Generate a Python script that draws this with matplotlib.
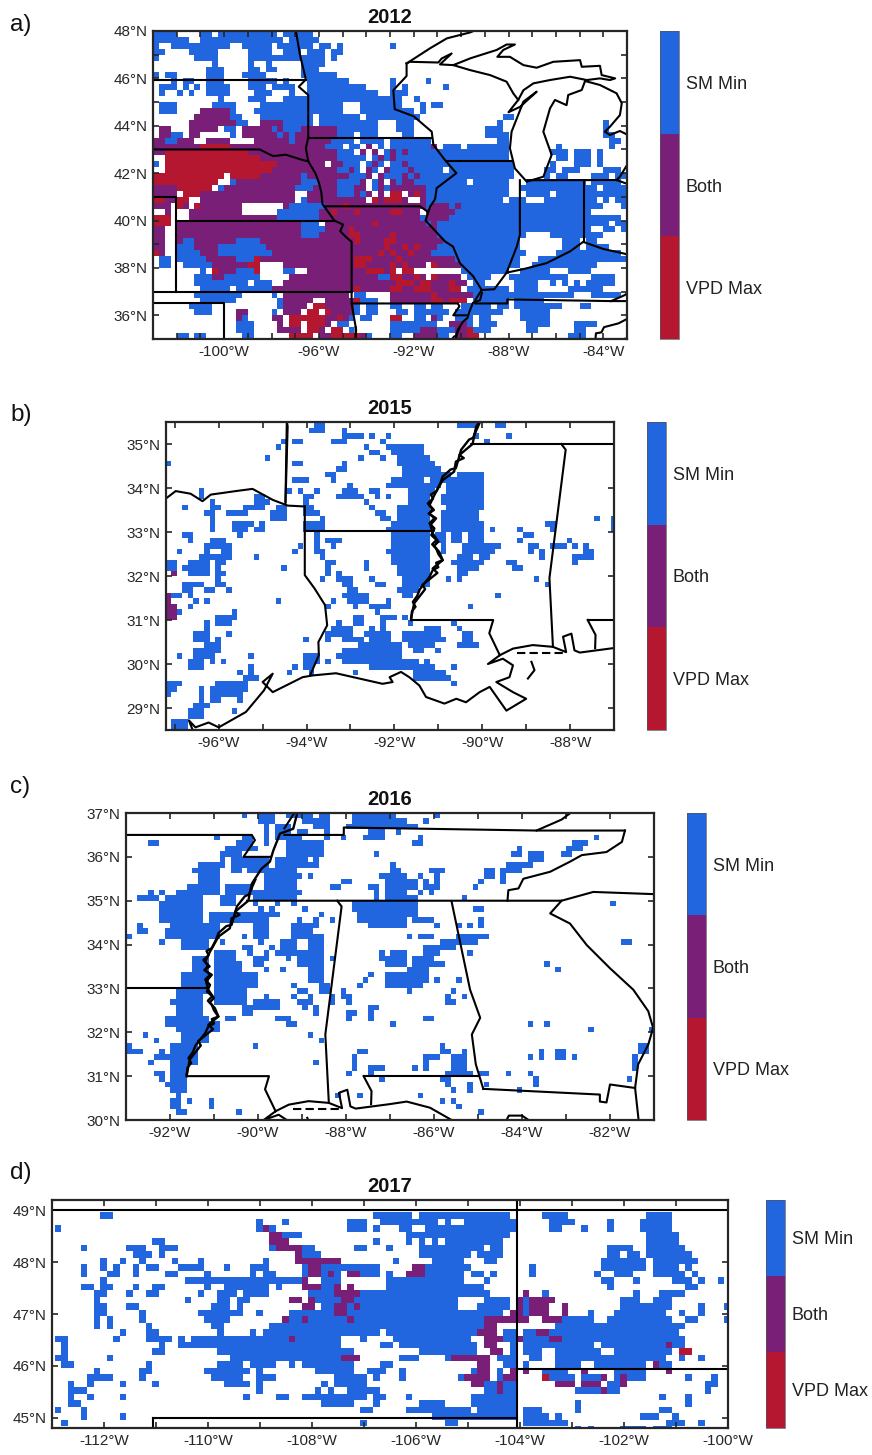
import numpy as np
import matplotlib
matplotlib.use("Agg")
import matplotlib.pyplot as plt
from matplotlib.colors import ListedColormap, BoundaryNorm
from matplotlib.cm import ScalarMappable

plt.rcParams['font.family'] = ['Liberation Sans', 'DejaVu Sans']

CATEGORIES = ['VPD Max', 'Both', 'SM Min']
COLORS = ['#B4172F', '#7A1F78', '#2166DE']

# 2012: 0.25 degree reading, rows from 48N southward, columns from 103W eastward
GRID_2012 = """
BBBB....BB .BBBBBBBBB B.BBBBB...
BBBBBB..BB BBBBBBBBBB BB.BBBBB..
B..BBBBBBB BBB..BBBBB .BBBBBB.BB .B........ B
BB....BBBB B.....BBBB ..BBB.BBB. BB
B......BBB B.....BBBB BBBBBBBBB. B
.......... B.....B..B .....BBBB.
.........B BB....BB.B B....BBB..
B.BB.....B BB...BBBB. .....BBBBB B
...B.BB..B BB....BBBB B.B...BBBB BBB....... B.....B...
.BBB.B.B.B BBB...BBB. BBBB..BBBB BBBBBB.... B.B......B
.B..B.B..B BBB....BBB ...B..BBBB BBBBBBBB.. BBB.......
.......... .B....BBB. ..BBBBBBBB BBBBBBBBBB BB..B.....
.BBB...... BBBB....BB BBBBBBBBBB BB...BBBBB BB...B.BB.
.BBB....PP PPPB...BBB BBBBBBBBBB BB...BBBBB BBBB.B....
.......PPP PPPBB...BB BBBBBBB.BB BBBBB.BBBB BBBBB..... .........B B.
......PPPP PPPPBB..PP PPBBBBB.BB BBBBBBBB.. .BBB...... ........B. .......... ......B...
.PP...PPPP P.BB.PPPPP BPBBBPPPPP PBBBBBBB.. .BBB...... ......BBB. .......... ......B...
.PPBB.PP.. ...B.PPPPP PBPBPPPPPP PBBB.BBB.. ..BB...... ......BBBB .......... ......BB..
PPBBPPP..P PPP....PPP PPPBPPPPPP BBBB.BBBB. BBBBBBB... ........BB .......... .......BB.
PPPPPPPPRR RRRPPPPPPP PPPPPPPPPB BB.BB.P.B. BBBBBBBP.B BB.BBBBBBB ........B. .......B..
PPRRRRRRRR RRRRRRPPPP PPPPPPPPPP PBBB.P.P.B PBPBBBBBBB BBBBBBBBBB .......BBB .BBB.B....
..RRRRRRRR RRRRRRRRPP PPPPPPPPPP PBBBBB.BPB PBBBBBBBBB BBBBBBBBBB ........BB .BBB.B....
B.RRRRRRRR RRRRRRRRRR RPPPPPPPP. PPBBB.BPB. BBPBBBBBBB BBBBBBBBBB B......B.. .BBB.B....
..RRRRRRRR RRRRRRRRRR PPPPPPPPPP PBBPB.PB.P BBBPBBBBB. BBBBBBBBBB B.....BB.B BB....BBB.
RRRRRRRRRR RR.RRRRRPP PPPPPBPPPP PPPBBBP.PB BBPBPBBBBB BBBBBBBBBB B.....B.BB ....BBB.BB
RRRRRRRRRR R..BPPPPPP PPPPPBBBPP PBBBBP.BP. PBPPBBBBBB BBB.BBBBBB ...BBBBBBB BBB.BBBBB.
PPPPRRRRRR .BPPPPPPPP PPPPBBBPPP PBBBPP.BPB PPPPPPBBBB BBBBBBBBBB ..BBBBBBBB BBBBB.BBBB
PPPP.RRRPP PPPPPPPPPP PPPP..PPPP PBBBPBP.P. RR.PRPBBBB BBBBBBBBBB ...BBBB.BB BBBBBBBBBB
RRPPRR..PP PPPPPPPPPP PPPP.BPPPP PPPPPP.RPR RRP..PBBBB BBBBBBBBB. BBB...BBBB BBBBB.B.BB
PPP.RP.RPP PPPPP..... ..PBBBBBBP PPRPPPPPPP PPPPPPBPPP BPBBBBBBBB BBBBBBBBBB BBBBBB...B
..P...PPPP PPPPP..... .BBBBBBBPP RPPPRPPPPP RRPPP.PPPP PBBBBBBBBB BBBBBBBBBB BBBB...... 
RRR...PPPP PPPPPPPPPP PBBBBBBBPP PPPPPPPPPP PPPPPBPPPP BBBBBBBBBB BBBBBBBBBB BBBBBBBBB.
RRR.PPPPPP PPPPPPPPPP PPPPPBBB.P PPPPPPPRPP PPPPPPBPBB BBBBBBBBBB BBBBBBBBBB BBBBBBB.BB
PP..PPPPPP PPPPPPPPPP PPPPPBBBBP PPPRPPPPPP PPPPPPPPBB BBBBBBBBBB BBBBBBBBBB BBBB..BB.B
PP..PPPPPP PPPPPPPPPP PPPPPBBBPP PPPRRPPPPP RPPPPPPPBB BBBBBBBBBB BBB....BBB BBBBBB....
PP..PBBPPP PPPPBBBBPP PPPPPPPPPP PPPPRPPPPR RPPPPPPPPB BBBBBBBBBB BB.......B BB.BB.....
PP..BBBPPP PBBBBBBBBP PPPPPPPPPP PPPPPPPPPR PPRPRPPPBB BBBBBBBBBB BB.......B BB.BBBB...
RP..BBBBPP PBBBBBBBBB PPPPPPPPPP PPPPPPPPRP RPPRPPPBBB BBBBBBBBBB BBB.....BB BBBBBBBBB.
.BB.BBBBBP PPPPBBBRPP PPPPPPPPPP PPPPRRRPPP PRPPPPPPPP PBBBBBBBBB BB...BBBBB BBBBBBBBBB
.BB..BBBBB PPPPPPRR.. ..PPPPPPPP PPPPRRPPPP RPRPPP.RPP PPBBBBBBBB BB..BBBBBB BBBBB.....
........B. RPPPBBBR.. ..BB..PPPP PPPPPPRRRP R.RR...... ..BBBBBBBB ..BBBBB... BBBB......
.......BBB PPBBBBBB.. ...PPPPPPP PPPPPPPPBB RRPPRP.RPP PP.BBBB... BBBBBBBBBB ....BBBB..
.......BBB BBBBBB.BBB ..PPPPPPPP PPPPPPPPPP PRRRPRRPPP RPP.BB.... .BBBB..B.B .B.BBBBB..
........BB BBB.BBBBBB PPPPPPPPPP PPPPRPPPPP RRPPRRRPPP RR.BBBBBBB .BBBB..... BBBBBB....
.......BBB BBBBB..... B.PPPPPPPP PPP.BB.... PPPPPPPRPP PPPPBBBBBB BBBBBBBBBB B...BBBBB.
........BB BBBB...... .BPPPPP..P PPPPRBBB.. PPPPPPPRRP RRR.BBBBBB .BBBBB.... ..........
......BBBB .......... .BPPPP.RRP PPPPB.BB.. BB..BB.BB. ..BBBBB.BB .BBBBBBBB. ..BB......
.......BBB ....PP.... B.PPP.RR.R PPPPB.BB.. .BB.BBBBBB .BBBBBBBB. ..BBBBB... ..........
.......... ....PB.... PP.RRRRRRP PRPB.BB... RR..BB.PB. .BBB.BB... ..BBBBB... ..........
.......... ....BBB... .P.RR.RRRP .BB....... BBBBBBBB.. PPPB.BBB.. ...BBBB... .BBBB.....
.......... ....BBB... .PPPP.RRP. RR.B...... BBBBBPPPBB BPPRBBB... ...BB..... .BB.......
....BB.BB. .....BB... ...RRRR.PP RRRRRPB... BB..PPPPBB .PPRR..... .......... BBB.......
"""

# cell rectangles: (first col, end col, first row, end row), rows southward at 0.125 deg
SM_2015 = [
(27,29,0,1),(26,29,1,2),(23,25,3,4),(32,33,1,4),(30,33,3,4),(33,36,2,3),(37,38,2,3),(39,40,3,4),(40,41,2,3),
(53,57,0,1),(60,62,0,1),(62,63,2,3),(58,59,3,4),(56,57,2,3),(21,22,3,4),(20,21,4,5),(18,19,6,7),(0,1,7,8),
(36,37,4,5),(37,39,5,6),(39,40,6,7),(35,36,6,7),(40,47,4,5),(41,47,5,6),(42,48,6,7),(42,49,7,8),(43,50,8,9),
(43,52,9,10),(41,47,10,11),(48,51,10,11),(40,50,11,12),(44,49,12,13),(44,48,13,17),(42,44,15,17),(42,48,17,18),
(41,48,18,19),(40,49,19,20),(41,48,20,26),(40,41,23,24),(42,48,26,28),(43,48,28,30),(42,46,30,31),(43,45,31,32),
(53,58,9,10),(51,58,10,16),(50,58,13,15),(51,58,15,16),(51,57,16,18),(50,51,16,18),(50,58,18,20),(49,51,20,22),
(52,54,20,22),(55,58,20,22),(54,61,22,23),(54,60,23,24),(50,51,22,24),(53,56,24,25),(57,59,24,25),(52,58,25,26),
(53,57,26,27),(53,55,27,28),(53,54,28,29),(51,52,28,29),(59,60,19,20),(64,65,19,20),(65,67,20,21),(64,65,21,22),
(66,68,22,23),(66,67,23,24),(68,69,23,25),(69,71,18,19),(70,71,19,20),(70,73,22,23),(73,74,21,22),(74,75,22,23),
(76,77,22,23),(76,78,23,25),(74,76,24,25),(74,75,25,26),(62,64,25,26),(63,65,26,27),(67,68,28,29),(69,70,29,30),
(60,61,31,32),(55,56,33,34),(78,79,17,18),(81,82,17,20),(23,25,7,8),(23,26,10,11),(22,23,12,13),(24,25,12,13),
(27,28,12,13),(25,27,13,14),(25,26,14,17),(26,27,15,17),(27,28,16,17),(25,29,18,20),(28,29,17,18),(32,33,7,9),
(31,33,8,9),(29,31,9,10),(30,31,10,11),(33,34,11,12),(32,35,12,13),(31,36,13,14),(37,39,12,13),(38,39,13,14),
(40,41,13,14),(36,37,14,15),(37,38,15,16),(38,40,16,17),(39,41,17,18),(27,28,20,24),(28,29,23,25),(29,32,21,22),
(30,31,22,23),(29,31,25,26),(29,30,26,28),(28,29,28,29),(36,37,25,27),(31,32,27,29),(32,34,28,30),(33,35,30,31),
(32,36,31,32),(33,36,32,33),(36,37,31,33),(37,38,28,29),(38,40,29,30),(30,31,32,33),(29,30,33,34),(34,35,33,34),
(37,41,33,34),(40,41,32,33),(38,39,34,35),(34,36,35,37),(39,42,35,36),(39,40,36,38),(43,44,35,36),(44,45,36,37),
(31,32,36,38),(30,34,37,39),(29,30,38,40),(32,36,39,40),(37,38,37,38),(36,37,38,39),(37,41,38,40),(47,50,37,38),
(43,50,38,39),(43,51,39,40),(44,49,40,41),(45,47,41,42),(49,50,41,42),(35,43,40,42),(32,43,41,42),(31,43,42,43),
(32,46,43,44),(37,49,44,45),(47,48,43,44),(45,51,45,46),(45,52,46,47),(52,53,44,45),(52,53,47,48),(29,30,43,44),
(34,35,45,46),(52,53,36,37),(53,54,37,38),(54,56,38,41),(53,56,40,41),(56,57,40,41),(25,26,39,40),(6,7,12,14),
(3,4,15,16),(8,9,14,20),(9,10,15,16),(7,8,16,17),(11,15,16,17),(14,18,15,16),(16,18,13,15),(12,15,18,20),
(13,14,20,21),(15,16,18,19),(16,18,19,20),(17,18,18,19),(19,22,16,18),(20,22,15,16),(18,19,14,15),(3,5,20,21),
(4,5,21,22),(8,11,21,22),(7,12,22,23),(7,8,23,24),(10,12,23,25),(6,11,24,25),(4,8,25,28),(3,4,26,27),(9,11,25,26),
(9,10,26,30),(10,11,27,28),(10,11,29,30),(11,12,30,31),(2,3,23,24),(23,24,23,24),(24,25,22,23),(16,17,24,25),
(21,22,26,27),(0,2,25,27),(3,7,29,30),(3,5,30,31),(7,9,30,31),(1,3,31,32),(4,5,31,32),(5,6,32,33),(7,8,32,33),
(4,5,33,34),(2,3,34,35),(20,21,32,33),(12,13,34,36),(9,12,35,37),(7,8,36,40),(5,8,38,40),(11,12,38,39),(9,10,39,42),
(7,10,40,41),(5,9,41,42),(5,7,42,43),(7,9,42,43),(4,7,43,45),(8,9,43,44),(10,11,43,44),(2,3,42,43),(15,16,42,43),
(15,16,44,47),(13,14,45,46),(14,17,46,47),(9,15,47,49),(8,14,48,50),(8,10,50,51),(6,7,48,53),(5,8,51,52),(4,7,52,54),
(13,14,50,51),(12,13,52,53),(0,3,47,48),(0,2,48,49),(0,1,49,50),(22,23,45,46),(23,24,44,45),(25,28,42,44),(25,27,44,45),
(26,27,45,46),(1,4,54,56)]
BOTH_2015 = [(1,2,27,28),(0,1,31,33),(0,2,33,36)]
VPD_2015 = []

SM_2016 = [
(21,22,0,1),(24,27,0,2),(25,26,2,6),(29,32,0,1),(27,30,2,5),(31,33,3,4),(32,34,0,2),(34,37,1,3),(35,37,0,1),(36,37,3,4),
(41,49,0,3),(44,47,3,5),(43,44,4,5),(40,41,2,3),(39,40,4,5),(36,37,4,5),(45,46,7,8),(4,6,5,6),(16,17,4,5),
(21,23,4,6),(20,23,5,6),(18,24,6,7),(17,21,7,8),(17,18,8,10),(19,26,8,10),(13,17,9,10),(12,17,10,11),(19,21,10,11),(22,26,10,11),
(13,17,11,14),(11,17,13,14),(9,17,14,15),(2,6,15,16),(4,5,14,15),(6,7,14,15),(7,14,15,17),(6,14,16,20),(8,14,20,23),(7,14,21,23),
(10,15,23,25),(14,17,20,23),(18,23,13,15),(17,20,15,17),(15,20,18,20),(20,28,18,19),(24,25,17,18),(26,27,17,18),(23,26,19,23),(24,25,23,24),
(20,23,18,20),(28,32,4,5),(29,36,5,8),(27,33,8,10),(34,35,8,10),(25,31,10,14),(31,32,11,12),(33,34,11,12),(31,32,14,15),(32,34,9,10),
(23,31,14,16),(27,28,16,17),(30,31,16,17),(23,24,16,17),(32,33,17,18),(35,36,18,19),(31,32,19,20),(34,35,19,21),(37,38,19,20),
(30,34,20,23),(33,36,22,28),(28,31,23,26),(31,33,25,28),(33,36,28,31),(35,37,31,33),(37,38,26,27),(27,28,25,26),(26,27,24,25),(25,26,25,27),
(23,25,26,28),(25,26,28,29),(28,29,28,29),(29,30,26,27),(21,23,24,25),(22,23,25,26),(21,22,22,23),(17,18,23,24),
(16,20,25,27),(16,21,27,32),(23,24,29,32),(21,23,29,32),(16,22,32,35),(10,15,29,32),(12,15,26,29),(18,20,37,38),(21,23,35,37),(23,28,34,36),(25,26,33,34),
(25,27,35,36),(27,30,37,38),(29,31,38,39),(30,31,31,32),(31,33,32,33),(30,31,33,34),(31,34,34,35),(33,34,33,34),(32,33,35,36),(34,35,35,37),
(37,38,33,35),(39,40,32,34),(40,41,33,35),(40,42,36,37),(40,41,37,38),(44,46,35,36),(44,45,36,38),(48,49,38,39),
(9,15,32,33),(8,9,34,35),(9,14,33,37),(7,15,37,39),(9,17,38,40),(10,15,40,42),(8,13,42,46),(8,11,46,49),(5,8,44,45),(6,7,43,44),(4,5,45,46),
(5,7,47,48),(6,7,48,49),(7,9,49,50),(8,11,49,51),(9,10,51,53),(8,10,52,54),(9,11,54,55),(11,12,52,53),(15,16,52,54),(20,21,54,55),
(3,4,40,41),(5,6,41,42),(0,1,42,44),(0,3,43,44),(23,24,42,43),(33,34,40,41),(35,36,41,42),(34,35,45,46),(2,3,20,22),(2,4,21,22),(0,1,22,23),(6,7,23,24),
(37,39,13,14),(39,41,12,13),(44,46,13,14),(45,46,14,16),(46,48,11,12),(47,49,12,16),(48,49,9,12),(41,49,16,18),(42,49,18,20),(44,48,20,21),
(46,47,25,27),(47,49,26,28),(48,49,25,26),(47,49,29,32),(44,45,29,30),(43,44,30,31),(42,43,31,32),(42,44,43,44),(41,42,44,47),(40,41,47,48),(44,47,46,47),
(44,45,47,48),(46,47,48,49),(38,39,51,52),(42,43,51,52),
(48,51,1,3),(51,53,2,3),(56,57,0,1),(54,55,1,2),(49,50,3,4),(52,54,5,6),(53,54,4,5),(48,51,11,15),(48,50,10,11),(51,53,12,14),(53,54,11,12),(53,54,14,15),(54,55,12,14),(55,58,10,11),
(56,57,11,14),(54,57,13,14),(55,56,14,15),(48,53,15,19),(48,51,19,21),(52,56,19,20),(56,57,20,21),(51,52,22,23),(53,56,22,23),(60,66,22,23),(57,64,23,24),(54,60,24,25),(54,57,25,26),(49,51,25,26),
(48,51,26,28),(52,56,26,27),(52,58,27,28),(51,55,28,29),(48,55,29,31),(48,54,31,32),(51,52,32,33),(56,57,30,31),(60,61,30,31),(59,60,32,33),(58,59,33,34),(58,60,34,35),(61,62,33,34),
(54,56,37,38),(48,49,38,39),(57,58,42,44),(58,59,43,44),(54,57,44,45),(54,55,45,47),(52,53,46,47),(61,62,43,44),(59,62,44,48),(58,63,47,48),(57,59,48,49),(58,59,49,50),(59,60,50,51),(62,63,49,51),
(64,66,47,48),(65,66,49,50),(69,70,47,48),(53,54,51,52),(57,58,52,53),(59,60,52,53),(60,61,53,54),(64,65,54,55),(71,72,50,51),(73,74,38,39),(76,77,38,39),(84,85,39,40),(76,77,27,28),(78,79,28,29),
(88,89,16,17),(90,92,23,24),(75,76,43,44),(78,80,43,45),(81,82,44,45),(73,74,44,45),(75,76,44,45),(73,74,47,48),(74,75,48,50),(93,95,42,44),(92,93,44,47),(91,92,48,49),(95,96,39,40),
(85,86,4,5),(81,84,5,6),(80,83,6,7),(79,81,7,8),(71,72,6,7),(70,72,7,8),(73,76,7,9),(69,74,9,10),(68,72,10,11),(68,69,11,13),(65,67,10,12),(64,65,12,13),(63,64,13,14),(61,62,15,16),(63,65,17,18),
(64,65,19,21),(60,61,20,21),(62,63,20,21),(62,63,25,26)]
BOTH_2016 = []
VPD_2016 = []

SM_2017 = [
(7,9,0,1),(0,1,2,3),(31,32,1,3),(35,36,1,2),(33,34,2,3),(45,48,1,3),(49,52,0,1),(50,52,1,2),(49,50,2,3),(35,38,3,4),(33,34,5,6),(38,40,5,6),(38,41,6,7),(46,48,5,6),(49,50,4,5),(51,52,5,6),
(4,5,5,6),(11,14,5,6),(12,15,6,7),(13,14,7,8),(15,17,4,5),(16,17,5,7),(17,19,5,6),(18,19,7,8),(22,23,7,8),(19,23,8,9),(17,19,9,10),(14,16,8,9),(12,13,8,10),(10,11,7,8),(9,10,8,10),(8,10,9,10),(7,8,7,9),(4,5,8,10),
(7,8,10,11),(4,6,11,12),(7,9,11,12),(6,8,12,13),(12,13,11,12),(11,12,12,13),(15,17,11,12),(14,16,12,13),(6,7,13,18),(7,8,14,16),(8,9,16,18),(11,13,14,15),(13,14,15,17),(14,15,17,20),(15,16,18,20),(16,18,19,20),(16,17,20,21),
(15,17,21,22),(10,11,18,19),(9,10,19,20),(0,2,19,20),(1,2,20,22),(0,2,22,23),(1,3,23,24),(8,9,22,23),(14,15,23,25),(13,14,24,26),(6,7,24,25),(5,9,25,26),(5,6,26,27),(2,3,26,29),(3,5,27,28),(10,11,26,27),(15,16,26,27),(5,6,28,29),
(10,11,28,29),(2,4,29,30),(0,1,30,31),(4,5,30,32),(10,11,31,32),(1,2,32,33),(20,21,13,14),(22,23,12,13),(26,27,8,9),(30,33,8,9),(32,33,7,8),(30,31,9,10),(32,34,9,10),(23,24,9,11),(20,38,10,11),(23,24,11,12),(26,33,11,12),(34,35,11,12),
(25,28,12,13),(29,33,12,13),(25,27,13,15),(24,27,14,15),(28,30,13,14),(28,29,14,16),(22,29,15,16),(23,27,16,17),(24,26,17,18),(25,26,18,19),(31,32,15,16),(36,43,15,16),(35,43,16,17),(33,52,17,18),(32,50,18,19),(30,31,18,19),
(25,44,19,21),(47,48,19,20),(19,20,19,21),(20,25,20,21),(21,25,19,20),(25,44,21,22),(44,46,21,22),(27,44,22,23),(30,34,23,24),(25,29,23,24),(36,37,23,24),(38,46,23,24),(40,46,24,25),(23,30,24,25),(31,32,24,25),(24,29,25,26),(31,34,25,26),
(26,30,26,27),(31,32,26,28),(43,48,25,27),(41,42,26,27),(40,41,27,28),(42,43,27,28),(45,50,27,28),(38,48,28,29),(49,51,28,29),(41,46,29,30),(49,50,29,30),(47,49,30,31),(29,30,28,29),(34,36,28,29),(48,51,24,25),(50,52,23,24),(49,50,25,26),(50,52,20,21),(47,48,32,33),
(38,44,8,10),(41,44,10,12),(44,47,8,9),(47,50,8,10),(39,41,12,14),(41,52,12,15),(43,52,15,17),
(51,55,0,1),(56,70,0,1),(52,59,1,2),(60,61,1,2),(63,71,1,2),(53,55,2,3),(57,71,2,3),(54,70,3,4),(54,55,4,5),(56,57,4,5),(58,59,4,5),(60,69,4,5),(56,66,5,6),(67,69,5,6),(56,64,6,7),(65,69,6,7),(58,63,7,8),(66,68,7,8),(52,53,7,8),
(57,64,8,9),(51,52,9,10),(57,63,9,10),(64,66,9,10),(67,68,9,10),(51,63,10,11),(66,67,10,11),(51,66,11,12),(51,67,12,13),(51,62,13,14),(66,70,13,14),(51,62,14,15),(65,70,14,15),(51,69,15,16),(51,67,16,17),(51,66,17,19),(52,64,19,20),(53,65,20,21),(56,65,21,22),
(54,56,22,23),(60,62,22,23),(53,54,22,23),(64,65,24,25),(62,63,25,26),(53,54,24,26),(51,52,23,24),(54,55,28,29),(56,60,29,30),(54,64,30,31),(58,65,31,32),(60,62,32,33),(64,71,28,30),(65,71,30,32),(66,71,26,27),(66,68,27,28),(69,71,27,28),
(68,71,22,23),(69,71,23,24),(68,69,24,26),(70,71,20,22),(69,71,18,20),
(75,79,0,1),(76,80,1,2),(76,78,2,3),(81,82,2,3),(85,86,1,3),(91,95,0,1),(90,95,1,3),(91,96,3,5),(91,97,5,6),(85,89,5,6),(85,87,6,7),(88,90,6,7),(91,98,6,7),(84,91,7,8),(92,99,7,8),(84,91,8,9),(92,96,8,10),(97,98,8,9),(86,89,9,10),(83,84,9,10),(84,86,10,11),(85,86,11,12),
(89,90,10,11),(95,98,10,11),(96,97,9,10),(98,99,9,10),(97,99,11,12),(99,100,10,11),(102,103,10,11),(73,74,8,10),(75,76,12,13),(89,90,12,13),(93,97,12,13),(87,90,13,14),(92,95,13,15),(87,94,14,15),(86,94,15,16),(82,83,15,16),(96,97,15,16),(99,100,14,16),(103,104,14,15),
(78,83,16,17),(85,95,16,17),(97,99,16,17),(103,104,16,17),(77,97,17,18),(72,74,18,19),(76,96,18,19),(72,76,19,20),(78,97,19,20),(72,83,20,21),(84,94,20,21),(95,97,20,21),(72,75,21,22),(77,84,21,22),(86,95,21,22),(96,97,22,23),(73,75,22,23),(77,94,22,23),(99,100,22,23),
(72,73,23,24),(77,81,23,24),(83,91,23,24),(93,95,23,24),(75,79,24,25),(76,80,25,26),(81,84,25,26),(86,91,24,26),(97,98,25,26),(101,102,25,27),(100,101,26,28),(85,87,26,28),(80,84,27,28),(93,94,28,29),(97,98,28,30),(80,81,29,31),(93,95,30,31),(90,93,31,32),(95,96,31,32),(94,96,32,33),(96,97,32,33),
(99,100,32,33),(72,75,30,31),(72,76,31,32),(77,78,31,32),(72,79,32,33),(80,81,33,34),(82,83,33,34),(87,91,33,34),(92,95,33,34),(72,73,12,17),(70,72,16,17)]
BOTH_2017 = [
(32,33,2,3),(33,35,3,4),(33,36,4,5),(34,38,5,6),(37,38,6,7),(37,44,7,8),(39,41,8,10),(38,39,10,12),(39,41,11,12),(42,43,9,10),(45,47,9,10),(43,44,11,13),(45,46,11,12),(44,47,12,13),(44,46,13,14),(43,45,14,16),(46,47,14,15),(36,38,13,14),(39,40,13,14),(38,40,14,15),(35,36,16,17),(38,39,16,17),(45,46,16,17),(36,37,19,20),(44,47,22,23),
(55,57,8,9),(54,57,9,10),(72,73,12,13),(71,72,13,15),(73,77,13,14),(73,76,14,15),(78,79,14,16),(70,72,15,16),(73,76,15,16),(66,73,16,17),(75,78,16,17),(66,68,17,18),(65,68,18,19),(74,76,18,19),(66,69,19,20),(71,72,19,20),(76,78,19,20),(66,68,20,21),(67,69,21,22),(61,67,22,23),(65,67,23,25),(63,67,25,26),(64,66,26,27),(69,71,25,26),(68,69,26,28),(70,71,24,25),
(77,80,26,27),(81,84,26,27),(84,85,27,28),(87,88,25,27),(84,85,25,26),(72,73,24,25),(81,82,24,25),(94,95,24,25),(92,93,23,24),(94,95,20,21)]
VPD_2017 = [(96,98,21,22),(75,76,25,26)]

# state lines and coasts as (lon, lat)
ND_SD = [(-104.05,45.94),(-96.56,45.94)]
SD_NE = [(-104.05,43),(-98.5,43),(-97.93,42.72),(-97.4,42.78),(-96.67,42.55),(-96.45,42.5)]
MN_WEST = [(-97.0,48.2),(-96.97,48),(-96.8,47),(-96.56,46),(-96.56,45.94),(-96.85,45.65),(-96.45,45.3),(-96.45,43.5)]
MN_IA = [(-96.45,43.5),(-91.22,43.5)]
MISSOURI = [(-96.45,43.5),(-96.55,43.05),(-96.45,42.5),(-96.15,42.0),(-96.0,41.6),(-95.9,41.2),(-95.85,40.7),(-95.35,40.0),(-94.98,39.83),(-95.1,39.55),(-94.85,39.3),(-94.62,39.1),(-94.62,36.5),(-94.43,35.4),(-94.48,33.64)]
IA_MO = [(-95.77,40.6),(-91.73,40.6),(-91.42,40.38)]
KS_NE = [(-102.05,40),(-95.3,40)]
CO_KS = [(-104,41),(-102.05,41),(-102.05,37)]
KS_OK = [(-103,37),(-94.62,37)]
PANHANDLE = [(-103,36.5),(-100,36.5),(-100,34.56)]
MO_AR = [(-94.62,36.5),(-90.14,36.5),(-90.07,36.38),(-90.33,36.0),(-89.73,36.0)]
MISS_NORTH = [(-92.3,46.63),(-92.3,46.1),(-92.86,45.5),(-92.8,44.7),(-92.0,44.4),(-91.24,43.75),(-91.17,43.2),(-90.68,42.55),(-90.2,42.0),(-91.03,41.37),(-91.1,40.9),(-91.3,40.6),(-91.5,40.0),(-90.68,39.12),(-90.34,38.9),(-90.05,38.2),(-89.5,37.66),(-89.13,37.07),(-89.4,36.65)]
MISS_B = [(-90.06,35.48),(-90.21,35.14),(-90.3,35.1),(-90.48,34.87),(-90.6,34.45),(-90.72,34.42),(-90.9,34.26),(-90.95,34.12),(-91.05,33.92),(-91.17,33.85),(-91.12,33.76),(-91.24,33.65),(-91.14,33.52),(-91.2,33.42),(-91.09,33.31),(-91.2,33.2),(-91.09,33.08),(-91.16,32.93),(-91.04,32.82),(-91.14,32.72),(-91.05,32.63),(-91.0,32.5),(-90.9,32.36),(-91.05,32.3),(-91.0,32.2),(-91.13,32.13),(-91.2,31.98),(-91.35,31.79),(-91.42,31.7),(-91.48,31.55),(-91.58,31.41),(-91.52,31.3),(-91.6,31.2),(-91.62,31.0)]
MISS_C = [(-89.12,36.95),(-89.2,36.64),(-89.5,36.53),(-89.65,36.15),(-89.73,35.89),(-89.92,35.73),(-90.14,35.39),(-90.22,35.0),(-90.52,34.75),(-90.42,34.68),(-90.6,34.6),(-90.64,34.37),(-90.9,34.18),(-91.09,33.84),(-91.2,33.61),(-91.1,33.5),(-91.22,33.42),(-91.05,33.31),(-91.18,33.16),(-91.13,32.97),(-91.0,32.78),(-91.1,32.68),(-90.98,32.55),(-90.9,32.36),(-91.13,32.17),(-91.02,32.07),(-91.36,31.8),(-91.3,31.7),(-91.55,31.38),(-91.62,31.04)]
WI_IL = [(-90.64,42.5),(-87.8,42.5)]
IL_IN = [(-87.52,41.7),(-87.52,39.4),(-87.65,38.9),(-88.08,37.8)]
OHIO_RIVER = [(-89.13,37.07),(-88.6,37.1),(-88.08,37.8),(-87.37,37.95),(-86.4,38.2),(-85.4,38.7),(-84.85,39.1),(-84.0,38.8),(-83.1,38.6),(-82.6,38.4)]
IN_OH = [(-84.8,41.7),(-84.8,39.1)]
MI_SOUTH = [(-87.2,41.7),(-83.44,41.71),(-83.0,41.55)]
KY_TN = [(-89.4,36.5),(-88.05,36.5),(-88.05,36.67),(-83.67,36.6),(-81.66,36.6)]
KY_VA = [(-83.67,36.6),(-83.1,36.85),(-82.9,37.0),(-82.7,37.2)]
TN_NC = [(-81.66,36.6),(-81.73,36.34),(-82.08,36.11),(-82.64,36.04),(-82.91,35.89),(-83.36,35.66),(-83.97,35.5),(-84.08,35.28),(-84.31,35.24),(-84.33,35.0)]
TN_SOUTH = [(-90.25,35.0),(-83.1,35.0),(-82.38,35.2),(-81.0,35.15)]
GA_SC = [(-83.1,35.0),(-83.36,34.71),(-82.91,34.48),(-82.53,33.99),(-82.0,33.46),(-81.47,32.97),(-81.13,32.48),(-81.02,32.1),(-81.13,31.72),(-81.36,31.27),(-81.43,30.73),(-81.35,30.0)]
GA_FL = [(-81.43,30.73),(-82.0,30.81),(-82.05,30.55),(-82.08,30.4),(-82.23,30.42),(-82.23,30.58),(-84.88,30.71)]
AL_GA = [(-85.6,34.98),(-85.18,32.97),(-84.95,32.33),(-85.14,31.95),(-85.05,31.27),(-84.88,30.71)]
MS_AL = [(-88.2,35.0),(-88.1,34.87),(-88.47,31.95),(-88.39,30.39)]
AL_FL = [(-87.6,31),(-85.0,31)]
PERDIDO = [(-87.6,31),(-87.42,30.66),(-87.43,30.36)]
OK_AR = [(-94.45,35.5),(-94.48,33.69)]
RED_RIVER = [(-97.3,33.8),(-97.19,33.77),(-96.98,33.93),(-96.64,33.87),(-96.37,33.7),(-96.18,33.85),(-95.61,33.93),(-95.23,33.98),(-94.77,33.73),(-94.43,33.6),(-94.04,33.58)]
TX_AR = [(-94.04,33.58),(-94.04,32.02),(-93.82,31.72),(-93.58,31.34),(-93.53,30.88),(-93.73,30.5),(-93.72,30.2),(-93.92,29.74)]
AR_LA = [(-94.04,33.02),(-91.17,33.02)]
MS_LA = [(-91.62,31.0),(-89.75,31.0),(-89.84,30.7),(-89.6,30.2)]
LA_TX_COAST = [(-89.6,30.2),(-89.87,30.0),(-89.53,30.12),(-89.3,29.97),(-89.38,29.7),(-89.68,29.59),(-89.3,29.36),(-89.0,29.21),(-89.45,28.94),(-89.83,29.48),(-90.06,29.36),(-90.37,29.13),(-90.59,29.21),(-90.86,29.1),(-91.28,29.25),(-91.43,29.51),(-91.66,29.7),(-91.85,29.82),(-92.11,29.7),(-92.04,29.59),(-92.27,29.55),(-92.8,29.67),(-93.33,29.79),(-93.86,29.74),(-94.09,29.7),(-94.77,29.36),(-95.0,29.59),(-94.77,29.78),(-94.97,29.4),(-95.38,28.91),(-96.0,28.56),(-96.23,28.67),(-96.53,28.56),(-96.68,28.72),(-96.6,28.52)]
GULF_EAST = [(-89.6,30.2),(-89.3,30.35),(-88.85,30.43),(-88.39,30.39),(-88.09,30.27),(-88.16,30.62),(-87.97,30.69),(-87.9,30.31),(-87.78,30.26),(-87.02,30.36),(-86.62,30.42),(-86.09,30.28),(-85.6,30.0),(-85.3,29.7)]
APALACHEE = [(-84.35,30.0),(-84.3,30.1),(-84.0,30.1),(-83.85,30.0)]
ISLANDS = [(-89.2,30.25),(-88.1,30.25)]
CHANDELEUR = [(-88.88,30.05),(-88.81,29.86),(-88.96,29.67)]
SUPERIOR_MN = [(-92.3,46.63),(-91.31,47.27),(-90.6,47.69),(-89.62,47.94),(-89.0,48.2)]
SUPERIOR_SOUTH = [(-92.3,46.63),(-92.16,46.7),(-90.96,46.67),(-90.82,46.84),(-90.4,47.05),(-90.89,46.59),(-90.33,46.56),(-89.6,46.85),(-88.5,47.2),(-88.08,47.43),(-87.73,47.43),(-88.22,47.2),(-88.47,46.91),(-87.94,46.91),(-87.37,46.56),(-86.81,46.45),(-86.11,46.7),(-84.98,46.77),(-84.91,46.49),(-84.14,46.53),(-84.07,46.14),(-83.5,46.0),(-83.72,45.93),(-84.14,46.0),(-84.7,45.93),(-85.4,46.07),(-86.25,45.93),(-86.95,45.79),(-87.37,45.5),(-87.59,45.09),(-88.0,44.57),(-87.51,44.8),(-86.81,45.44),(-87.37,45.02),(-87.87,43.75),(-87.94,43.05),(-87.73,42.2),(-87.23,41.64),(-86.53,41.85),(-86.18,42.77),(-86.53,43.75),(-86.25,44.73),(-86.04,45.09),(-85.55,44.87),(-85.48,45.3),(-84.91,45.51),(-84.77,45.89),(-84.14,45.72),(-83.44,45.37),(-83.22,44.95),(-83.3,44.45),(-83.72,43.96),(-83.93,43.75),(-83.72,43.61),(-83.3,43.78),(-82.94,43.6)]
DETROIT = [(-82.9,42.4),(-83.0,42.34),(-83.3,41.85),(-83.44,41.71)]
WI_MI = [(-90.33,46.56),(-89.62,46.35),(-88.78,46.14),(-88.08,45.86),(-87.8,45.37),(-87.59,45.09)]
LAT_49 = [(-116,49),(-95,49)]
MT_ND = [(-104.05,49.5),(-104.05,44)]
WY_LINE = [(-111.05,45),(-104.05,45)]
WY_WEST = [(-111.05,45),(-111.05,44)]

SOLID_LINES = [ND_SD,SD_NE,MN_WEST,MN_IA,MISSOURI,IA_MO,KS_NE,CO_KS,KS_OK,PANHANDLE,MO_AR,MISS_NORTH,WI_IL,IL_IN,
               OHIO_RIVER,IN_OH,MI_SOUTH,KY_TN,KY_VA,TN_NC,TN_SOUTH,GA_SC,GA_FL,AL_GA,MS_AL,AL_FL,PERDIDO,OK_AR,RED_RIVER,
               TX_AR,AR_LA,MS_LA,LA_TX_COAST,GULF_EAST,APALACHEE,CHANDELEUR,SUPERIOR_MN,SUPERIOR_SOUTH,DETROIT,WI_MI,
               LAT_49,MT_ND,WY_LINE,WY_WEST]
RIVER_LINES = [MISS_B, MISS_C]

W, H = 872, 1455
fig = plt.figure(figsize=(W/100, H/100), dpi=100)

def frac(x0, y0, x1, y1):
    return [x0/W, 1-y1/H, (x1-x0)/W, (y1-y0)/H]

cmap = ListedColormap(COLORS)
norm = BoundaryNorm([0, 1, 2, 3], 3)

def rects_to_grid(ncols, nrows, sm, both, vpd):
    grid = np.full((nrows, ncols), np.nan)
    for code, rects in ((2, sm), (1, both), (0, vpd)):
        for c0, c1, r0, r1 in rects:
            grid[r0:r1, c0:c1] = code + 0.5
    return grid

def text_to_grid(text, ncols, nrows):
    codes = {'B': 2.5, 'P': 1.5, 'R': 0.5}
    grid = np.full((nrows, ncols), np.nan)
    for r, line in enumerate(text.strip().splitlines()[:nrows]):
        for c, ch in enumerate(line.replace(' ', '')[:ncols]):
            if ch in codes:
                grid[r, c] = codes[ch]
    return grid

def panel(box, cbar_x, grid, lon0, lat0, cell, xlim, ylim, xmajor, xlab_from, xlab_step, ymajor, ylab_step, year, tag, tag_y, river_lw):
    ax = fig.add_axes(frac(*box))
    nr, nc = grid.shape
    lon = lon0 + cell*np.arange(nc+1)
    lat = lat0 - cell*np.arange(nr+1)
    ax.pcolormesh(lon, lat, np.ma.masked_invalid(grid), cmap=cmap, norm=norm, antialiased=False, linewidth=0, rasterized=True)
    for line in SOLID_LINES:
        a = np.array(line)
        ax.plot(a[:, 0], a[:, 1], color='black', lw=1.5, solid_joinstyle='round')
    for line in RIVER_LINES:
        a = np.array(line)
        ax.plot(a[:, 0], a[:, 1], color='black', lw=river_lw, solid_joinstyle='round')
    a = np.array(ISLANDS)
    ax.plot(a[:, 0], a[:, 1], color='black', lw=1.5, ls=(0, (4, 2)))
    ax.set_xlim(*xlim); ax.set_ylim(*ylim)
    ax.set_xticks(xmajor)
    ax.set_xticklabels([f'{v}°W' if (v-xlab_from) % xlab_step == 0 else '' for v in xmajor])
    ax.set_yticks(ymajor)
    ax.set_yticklabels([f'{v}°N' if v % ylab_step == 0 else '' for v in ymajor])
    ax.tick_params(direction='in', top=True, right=True, length=4, width=1.2, labelsize=11, colors='#262626', pad=4)
    for s in ax.spines.values():
        s.set_linewidth(1.6); s.set_color('#262626')
    ax.set_title(year, fontsize=14.5, fontweight='bold', pad=6, color='#111111')
    fig.text(10/W, 1-tag_y/H, tag, fontsize=17.5, va='center', ha='left', color='#111111')
    cax = fig.add_axes(frac(cbar_x, box[1], cbar_x+19, box[3]))
    cb = fig.colorbar(ScalarMappable(norm=norm, cmap=cmap), cax=cax, ticks=[0.5, 1.5, 2.5])
    cb.ax.set_yticklabels(CATEGORIES)
    cb.ax.minorticks_off()
    cb.ax.tick_params(which='both', length=0, labelsize=13, pad=5, colors='#222222')
    cb.outline.set_linewidth(0.5); cb.outline.set_edgecolor('#555555')

grid_a = text_to_grid(GRID_2012, 80, 52)
panel((153, 31, 627, 339), 660, grid_a, -103, 48, 0.25, (-103, -83), (35, 48),
      list(range(-103, -82)), -100, 4, list(range(35, 49)), 2, '2012', 'a)', 25, 1.5)
grid_b = rects_to_grid(82, 56, SM_2015, BOTH_2015, VPD_2015)
panel((166, 422, 614, 730), 647, grid_b, -97.2, 35.5, 0.125, (-97.2, -87), (28.5, 35.5),
      list(range(-97, -86)), -96, 2, list(range(29, 36)), 1, '2015', 'b)', 415, 1.7)
grid_c = rects_to_grid(96, 56, SM_2016, BOTH_2016, VPD_2016)
panel((126, 813, 654, 1120), 687, grid_c, -93, 37, 0.125, (-93, -81), (30, 37),
      list(range(-92, -80)), -92, 2, list(range(30, 38)), 1, '2016', 'c)', 787, 1.7)
grid_d = rects_to_grid(105, 34, SM_2017, BOTH_2017, VPD_2017)
panel((52, 1200, 728, 1428), 766, grid_d, -112.95, 48.96, 0.125, (-113, -100), (44.8, 49.2),
      list(range(-112, -99)), -112, 2, list(range(45, 50)), 1, '2017', 'd)', 1173, 1.5)

fig.savefig('out.png', dpi=100)
